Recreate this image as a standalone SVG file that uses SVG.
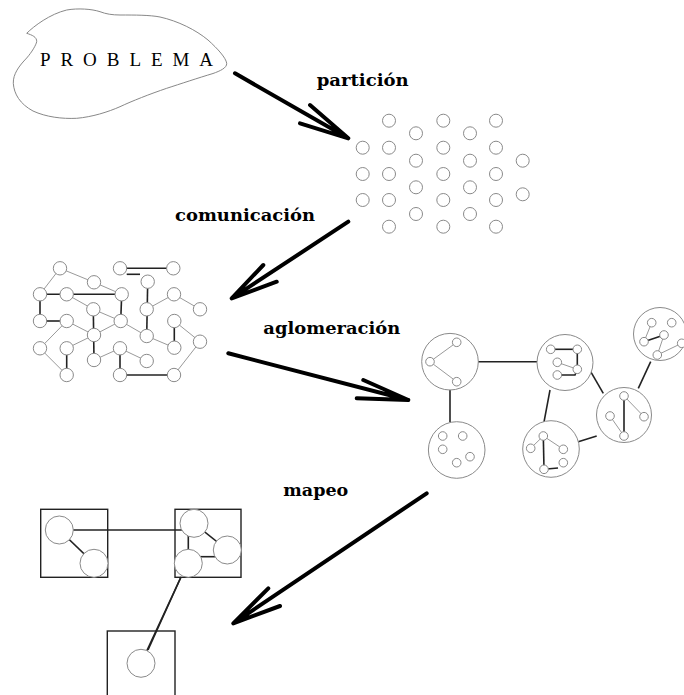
<svg xmlns="http://www.w3.org/2000/svg" width="684" height="695" viewBox="0 0 684 695">
<style>
.bg{fill:#fff}
.n{fill:#fff;stroke:#8a8a8a;stroke-width:1}
.big{fill:#fff;stroke:#8a8a8a;stroke-width:1}
.g{stroke:#9a9a9a;stroke-width:1;fill:none}
.d{stroke:#222;stroke-width:1.6;fill:none}
.box{fill:none;stroke:#222;stroke-width:1.4}
.arr{stroke:#000;stroke-width:4;fill:none;stroke-linecap:round}
.lbl{font-family:"DejaVu Serif","Liberation Serif",serif;font-weight:bold;font-size:17px;fill:#000}
.prob{font-family:"Liberation Serif","Times New Roman",serif;font-size:19px;fill:#000}
</style>
<rect class="bg" x="0" y="0" width="684" height="695"/>

<g id="problema">
<path d="M26.7,33.3 C34,26 50,14 66.7,10 C78,8 92,9 100,11.7 C106,14 112,15 120,15 C135,15 150,15 160,17 C178,21 196,30 208,40 C218,49 226,58 226.7,63.3 C227,68 220,71 213,73.5 C198,78 180,84 166.7,88.3 C150,94 132,101 120,106.7 C108,112 92,117 76.7,118.3 C62,119 46,117 33,111 C20,104 14,94 13.3,83.3 C13,74 19,66 26.7,58 C32,52 36,45 36.7,41.7 C37,37 32,35 26.7,33.3 Z" fill="#fff" stroke="#888" stroke-width="1"/>
<text class="prob" x="40" y="66" textLength="173" lengthAdjust="spacing">PROBLEMA</text>
</g>

<g id="particion">
<circle class="n" cx="362.7" cy="147.7" r="6.5"/>
<circle class="n" cx="362.7" cy="174" r="6.5"/>
<circle class="n" cx="362.7" cy="200" r="6.5"/>
<circle class="n" cx="389" cy="120.7" r="6.5"/>
<circle class="n" cx="389" cy="147.7" r="6.5"/>
<circle class="n" cx="389" cy="174" r="6.5"/>
<circle class="n" cx="389" cy="200" r="6.5"/>
<circle class="n" cx="389" cy="226.7" r="6.5"/>
<circle class="n" cx="416" cy="133.3" r="6.5"/>
<circle class="n" cx="416" cy="160.7" r="6.5"/>
<circle class="n" cx="416" cy="187.3" r="6.5"/>
<circle class="n" cx="416" cy="214" r="6.5"/>
<circle class="n" cx="443.3" cy="120.7" r="6.5"/>
<circle class="n" cx="443.3" cy="147.7" r="6.5"/>
<circle class="n" cx="443.3" cy="174" r="6.5"/>
<circle class="n" cx="443.3" cy="200" r="6.5"/>
<circle class="n" cx="443.3" cy="226.7" r="6.5"/>
<circle class="n" cx="470" cy="133.3" r="6.5"/>
<circle class="n" cx="470" cy="160.7" r="6.5"/>
<circle class="n" cx="470" cy="187.3" r="6.5"/>
<circle class="n" cx="470" cy="214" r="6.5"/>
<circle class="n" cx="496" cy="120.7" r="6.5"/>
<circle class="n" cx="496" cy="147.7" r="6.5"/>
<circle class="n" cx="496" cy="174" r="6.5"/>
<circle class="n" cx="496" cy="200" r="6.5"/>
<circle class="n" cx="496" cy="226.7" r="6.5"/>
<circle class="n" cx="522.7" cy="160.7" r="6.5"/>
<circle class="n" cx="522.7" cy="194.3" r="6.5"/>
</g>

<g id="comunicacion">
<g class="g">
<line x1="60" y1="268.3" x2="94" y2="282.3"/>
<line x1="60" y1="268.3" x2="40" y2="294.3"/>
<line x1="94" y1="282.3" x2="121.7" y2="294.3"/>
<line x1="66.7" y1="294.3" x2="93.3" y2="309.3"/>
<line x1="66.7" y1="321" x2="40" y2="348.3"/>
<line x1="93.3" y1="309.3" x2="120.7" y2="321"/>
<line x1="66.7" y1="321" x2="94" y2="335"/>
<line x1="94" y1="335" x2="120.7" y2="321"/>
<line x1="120.7" y1="321" x2="146.7" y2="336"/>
<line x1="146.7" y1="309.3" x2="174" y2="294.3"/>
<line x1="174" y1="294.3" x2="200" y2="309.3"/>
<line x1="146.7" y1="336" x2="174.3" y2="347.7"/>
<line x1="174.3" y1="321" x2="200" y2="341.7"/>
<line x1="200" y1="341.7" x2="174" y2="375"/>
<line x1="120" y1="348.3" x2="146.7" y2="361"/>
<line x1="94" y1="360" x2="120" y2="348.3"/>
<line x1="66.7" y1="348.3" x2="94" y2="335"/>
<line x1="40" y1="348.3" x2="66.7" y2="375"/>
</g>
<g class="d">
<line x1="40" y1="294.3" x2="121.7" y2="294.3"/>
<line x1="121.7" y1="294.3" x2="120.7" y2="321"/>
<line x1="40" y1="294.3" x2="40" y2="321"/>
<line x1="40" y1="321" x2="66.7" y2="321"/>
<line x1="93.3" y1="309.3" x2="94" y2="360"/>
<line x1="120" y1="268.3" x2="173.3" y2="268.3"/>
<line x1="126.7" y1="274.3" x2="140" y2="274.3"/>
<line x1="147.7" y1="281.7" x2="146.7" y2="336"/>
<line x1="174.3" y1="321" x2="174.3" y2="347.7"/>
<line x1="120" y1="375" x2="174" y2="375"/>
<line x1="120" y1="348.3" x2="120" y2="375"/>
<line x1="66.7" y1="348.3" x2="66.7" y2="375"/>
</g>
<circle class="n" cx="60" cy="268.3" r="6.7"/>
<circle class="n" cx="94" cy="282.3" r="6.7"/>
<circle class="n" cx="40" cy="294.3" r="6.7"/>
<circle class="n" cx="66.7" cy="294.3" r="6.7"/>
<circle class="n" cx="121.7" cy="294.3" r="6.7"/>
<circle class="n" cx="120" cy="268.3" r="6.7"/>
<circle class="n" cx="173.3" cy="268.3" r="6.7"/>
<circle class="n" cx="147.7" cy="281.7" r="6.7"/>
<circle class="n" cx="174" cy="294.3" r="6.7"/>
<circle class="n" cx="200" cy="309.3" r="6.7"/>
<circle class="n" cx="93.3" cy="309.3" r="6.7"/>
<circle class="n" cx="146.7" cy="309.3" r="6.7"/>
<circle class="n" cx="40" cy="321" r="6.7"/>
<circle class="n" cx="66.7" cy="321" r="6.7"/>
<circle class="n" cx="120.7" cy="321" r="6.7"/>
<circle class="n" cx="174.3" cy="321" r="6.7"/>
<circle class="n" cx="94" cy="335" r="6.7"/>
<circle class="n" cx="146.7" cy="336" r="6.7"/>
<circle class="n" cx="200" cy="341.7" r="6.7"/>
<circle class="n" cx="40" cy="348.3" r="6.7"/>
<circle class="n" cx="66.7" cy="348.3" r="6.7"/>
<circle class="n" cx="120" cy="348.3" r="6.7"/>
<circle class="n" cx="174.3" cy="347.7" r="6.7"/>
<circle class="n" cx="94" cy="360" r="6.7"/>
<circle class="n" cx="146.7" cy="361" r="6.7"/>
<circle class="n" cx="66.7" cy="375" r="6.7"/>
<circle class="n" cx="120" cy="375" r="6.7"/>
<circle class="n" cx="174" cy="375" r="6.7"/>
</g>

<g id="aglomeracion">
<g class="d">
<line x1="476.7" y1="361.7" x2="537" y2="361.7"/>
<line x1="450" y1="380" x2="450" y2="422"/>
<line x1="550" y1="390" x2="544" y2="422"/>
<line x1="590.7" y1="371.7" x2="603.3" y2="393.3"/>
<line x1="638.3" y1="388.3" x2="650.7" y2="361.7"/>
<line x1="578.3" y1="441.7" x2="596.7" y2="436"/>
</g>
<g id="c1">
<circle class="big" cx="450" cy="361.7" r="28.3"/>
<line class="g" x1="430" y1="361.7" x2="456.7" y2="342.3"/>
<line class="g" x1="430" y1="361.7" x2="456.7" y2="381.7"/>
<circle class="n" cx="456.7" cy="342.3" r="4.3"/>
<circle class="n" cx="430" cy="361.7" r="4.3"/>
<circle class="n" cx="456.7" cy="381.7" r="4.3"/>
</g>
<g id="c2">
<circle class="big" cx="565" cy="362.5" r="28"/>
<line class="d" x1="550.7" y1="349.3" x2="577.3" y2="349.3"/>
<line class="d" x1="577.3" y1="349.3" x2="577.3" y2="369.3"/>
<line class="g" x1="557.3" y1="362.3" x2="577.3" y2="369.3"/>
<polyline class="d" points="557.3,375 575,375 577.3,369.3"/>
<circle class="n" cx="550.7" cy="349.3" r="4.3"/>
<circle class="n" cx="577.3" cy="349.3" r="4.3"/>
<circle class="n" cx="557.3" cy="362.3" r="4.3"/>
<circle class="n" cx="577.3" cy="369.3" r="4.3"/>
<circle class="n" cx="557.3" cy="375" r="4.3"/>
</g>
<g id="c3">
<circle class="big" cx="624" cy="415" r="27.5"/>
<line class="d" x1="624" y1="396" x2="624" y2="436"/>
<line class="g" x1="624" y1="396" x2="644" y2="416.7"/>
<line class="g" x1="610" y1="416" x2="624" y2="436"/>
<circle class="n" cx="624" cy="396" r="4.3"/>
<circle class="n" cx="610" cy="416" r="4.3"/>
<circle class="n" cx="644" cy="416.7" r="4.3"/>
<circle class="n" cx="624" cy="436" r="4.3"/>
</g>
<g id="c4">
<circle class="big" cx="456.7" cy="450" r="28.3"/>
<circle class="n" cx="442.7" cy="436" r="4.3"/>
<circle class="n" cx="462.7" cy="436" r="4.3"/>
<circle class="n" cx="442.7" cy="449.3" r="4.3"/>
<circle class="n" cx="470" cy="456.7" r="4.3"/>
<circle class="n" cx="456.7" cy="462.7" r="4.3"/>
</g>
<g id="c5">
<circle class="big" cx="551" cy="449" r="28.3"/>
<line class="d" x1="543.3" y1="436" x2="544" y2="469.3"/>
<line class="g" x1="543.3" y1="436" x2="563.3" y2="449.3"/>
<line class="g" x1="530.7" y1="448.3" x2="543.3" y2="436"/>
<line class="d" x1="544" y1="469.3" x2="558" y2="468"/>
<circle class="n" cx="543.3" cy="436" r="4.3"/>
<circle class="n" cx="563.3" cy="449.3" r="4.3"/>
<circle class="n" cx="530.7" cy="448.3" r="4.3"/>
<circle class="n" cx="563.3" cy="462.7" r="4.3"/>
<circle class="n" cx="544" cy="469.3" r="4.3"/>
</g>
<g id="c6">
<circle class="big" cx="660" cy="334" r="26.5"/>
<line class="d" x1="644" y1="341.7" x2="664" y2="335"/>
<line class="g" x1="651.7" y1="322.7" x2="644" y2="341.7"/>
<line class="g" x1="664" y1="335" x2="657.3" y2="355"/>
<line class="g" x1="657.3" y1="355" x2="681.7" y2="343.3"/>
<circle class="n" cx="651.7" cy="322.7" r="4.3"/>
<circle class="n" cx="671.7" cy="322.7" r="4.3"/>
<circle class="n" cx="644" cy="341.7" r="4.3"/>
<circle class="n" cx="664" cy="335" r="4.3"/>
<circle class="n" cx="657.3" cy="355" r="4.3"/>
<circle class="n" cx="681.7" cy="343.3" r="4.3"/>
</g>
</g>

<g id="mapeo">
<rect class="box" x="40.7" y="509.3" width="67" height="68"/>
<rect class="box" x="175" y="509.3" width="66" height="68"/>
<rect class="box" x="107.3" y="631" width="67.7" height="70"/>
<g class="d">
<line x1="59.3" y1="530" x2="194" y2="530"/>
<line x1="59.3" y1="530" x2="94" y2="563.3"/>
<line x1="194" y1="523.3" x2="227.3" y2="550"/>
<line x1="188.3" y1="536" x2="188.3" y2="552"/>
<line x1="200" y1="556.7" x2="216" y2="556.7"/>
<line x1="181" y1="577" x2="141" y2="663.3"/>
</g>
<circle class="n" cx="59.3" cy="530" r="14"/>
<circle class="n" cx="94" cy="563.3" r="14"/>
<circle class="n" cx="194" cy="523.3" r="14"/>
<circle class="n" cx="227.3" cy="550" r="14"/>
<circle class="n" cx="188.3" cy="563.3" r="14"/>
<circle class="n" cx="141" cy="663.3" r="14"/>
<line class="d" x1="148" y1="650" x2="181" y2="577"/>
</g>

<g id="connectors">
<path class="arr" d="M235,73.3 L348.3,138.3 M310,105 L348.3,138.3 L300,123.3"/>
<path class="arr" d="M348.3,221.7 L231.7,298.3 M263.3,265 L231.7,298.3 L276.7,281.7"/>
<path class="arr" d="M228.3,353.3 L408.3,400 M363.3,380 L408.3,400 L356.7,398.3"/>
<path class="arr" d="M426.7,493.3 L233.3,623.3 M268.3,588.3 L233.3,623.3 L280,606"/>
<text class="lbl" x="316.7" y="86" textLength="92" lengthAdjust="spacingAndGlyphs">partición</text>
<text class="lbl" x="175" y="221" textLength="140" lengthAdjust="spacingAndGlyphs">comunicación</text>
<text class="lbl" x="263.3" y="334" textLength="137" lengthAdjust="spacingAndGlyphs">aglomeración</text>
<text class="lbl" x="283.3" y="496" textLength="65" lengthAdjust="spacingAndGlyphs">mapeo</text>
</g>
</svg>
